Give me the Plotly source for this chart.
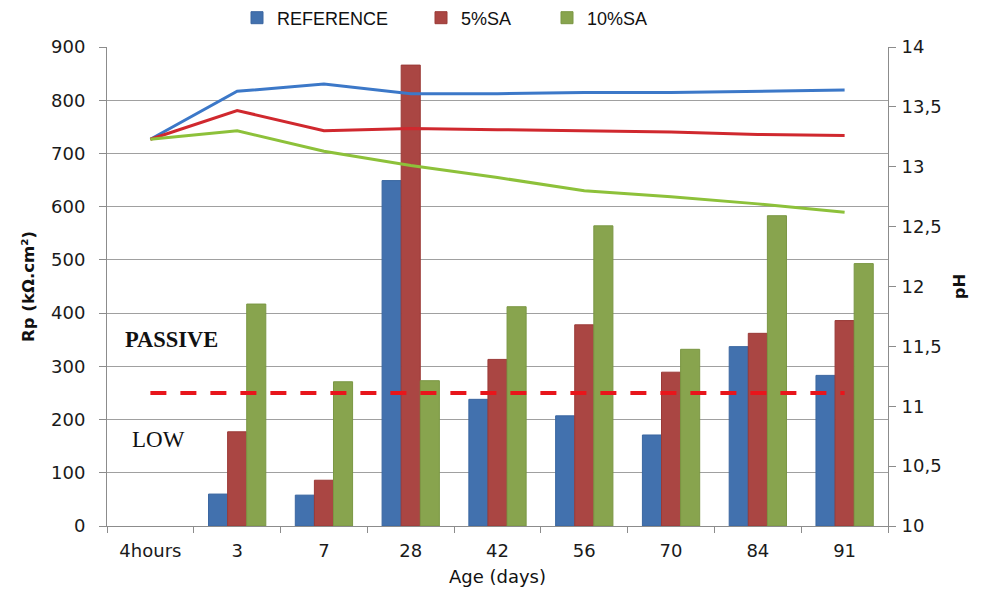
import plotly.graph_objects as go

categories = ["4hours", "3", "7", "28", "42", "56", "70", "84", "91"]

rp_reference = [None, 60, 58, 649, 238, 207, 171, 337, 283]
rp_5sa = [None, 177, 86, 866, 313, 378, 289, 362, 386]
rp_10sa = [None, 417, 271, 273, 412, 564, 332, 583, 493]

ph_reference = [13.23, 13.63, 13.69, 13.61, 13.61, 13.62, 13.62, 13.63, 13.64]
ph_5sa = [13.23, 13.47, 13.30, 13.32, 13.31, 13.30, 13.29, 13.27, 13.26]
ph_10sa = [13.23, 13.30, 13.13, 13.01, 12.91, 12.80, 12.75, 12.69, 12.62]

threshold = [250] * len(categories)

rp_ticks = [0, 100, 200, 300, 400, 500, 600, 700, 800, 900]
ph_ticks = [10, 10.5, 11, 11.5, 12, 12.5, 13, 13.5, 14]
ph_ticklabels = ["10", "10,5", "11", "11,5", "12", "12,5", "13", "13,5", "14"]

bar_colors = ["#4271AE", "#AA4643", "#88A44E"]
bar_edges = ["#3A66A0", "#9B3A37", "#7A9743"]
line_colors = ["#3C78C8", "#D0282E", "#8DC13A"]
names = ["REFERENCE", "5%SA", "10%SA"]
legend_ids = ["legend", "legend2", "legend3"]

# page offset of the default body margin
OFF = 8
W, H = 983, 590

fig = go.Figure()

for vals, name, c, e, lg in zip([rp_reference, rp_5sa, rp_10sa], names, bar_colors, bar_edges, legend_ids):
    fig.add_trace(go.Bar(
        x=categories, y=vals, name=name, legend=lg,
        marker=dict(color=c, line=dict(color=e, width=1)),
        yaxis="y",
    ))

fig.add_trace(go.Scatter(
    x=categories, y=threshold, mode="lines", showlegend=False,
    line=dict(color="#E8151B", width=4, dash="16px,14px"),
    yaxis="y",
))

for vals, c in zip([ph_reference, ph_5sa, ph_10sa], line_colors):
    fig.add_trace(go.Scatter(
        x=categories, y=vals, mode="lines", showlegend=False,
        line=dict(color=c, width=3),
        yaxis="y2",
    ))

tick_font = dict(family="DejaVu Sans", size=18, color="#1a1a1a")
legend_font = dict(family="Liberation Sans", size=18, color="#111")


def legend_at(px_left):
    return dict(
        orientation="h", x=(px_left - OFF - 12) / W, xanchor="left", xref="container",
        y=1 - (18 - OFF) / H, yanchor="middle", yref="container",
        font=legend_font, itemwidth=30, bgcolor="rgba(0,0,0,0)",
    )


fig.update_layout(
    width=W, height=H,
    paper_bgcolor="white", plot_bgcolor="white",
    margin=dict(l=107 - OFF, r=W - (888 - OFF), t=47 - OFF, b=H - (526 - OFF), autoexpand=False),
    barmode="group", bargap=0.34, bargroupgap=0,
    showlegend=True,
    legend=legend_at(249),
    legend2=legend_at(433),
    legend3=legend_at(559),
    xaxis=dict(
        type="category", tickson="boundaries", ticks="outside", ticklen=6,
        tickcolor="#8c8c8c", showline=True, linecolor="#8c8c8c", linewidth=1,
        showgrid=False, tickfont=tick_font, automargin=False, ticklabelstandoff=8,
        title=dict(text="Age (days)", font=dict(family="DejaVu Sans", size=18, color="#111"), standoff=10),
    ),
    yaxis=dict(
        range=[0, 900], tickvals=rp_ticks, showgrid=True, gridcolor="#A0A0A0", gridwidth=1,
        showline=True, linecolor="#8c8c8c", ticks="outside", ticklen=7, tickcolor="#8c8c8c",
        tickfont=tick_font, zeroline=False, automargin=False, ticklabelstandoff=10,
        title=dict(text="<b>Rp (kΩ.cm²)</b>", font=dict(family="DejaVu Sans", size=16.5, color="#111"), standoff=12),
    ),
    yaxis2=dict(
        range=[10, 14], tickvals=ph_ticks, ticktext=ph_ticklabels, overlaying="y", side="right",
        showgrid=False, showline=True, linecolor="#8c8c8c", ticks="outside", ticklen=7,
        tickcolor="#8c8c8c", tickfont=tick_font, zeroline=False, automargin=False, ticklabelstandoff=2,
        title=dict(text="<b>pH</b>", font=dict(family="DejaVu Sans", size=16.5, color="#111"), standoff=12),
    ),
    annotations=[
        dict(text="<b>PASSIVE</b>", x=16 / 781, xref="paper", y=350, yref="y", xanchor="left", yanchor="middle",
             showarrow=False, font=dict(family="Liberation Serif", size=22.5, color="#111")),
        dict(text="LOW", x=23 / 781, xref="paper", y=162, yref="y", xanchor="left", yanchor="middle",
             showarrow=False, font=dict(family="Liberation Serif", size=23, color="#111")),
    ],
)

fig.write_html("out.html")
